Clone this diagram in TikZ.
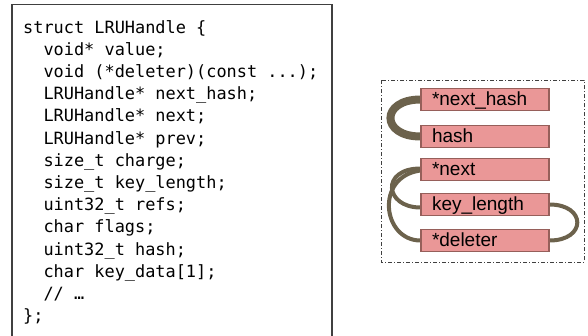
\documentclass[tikz,border=0pt]{standalone}
\usepackage{fontspec}
\setmainfont{Liberation Sans}
\newfontfamily\codefont{DejaVu Sans Mono}
\usetikzlibrary{backgrounds}
\definecolor{linkbrown}{RGB}{108,98,76}
\definecolor{fieldfill}{RGB}{234,151,151}
\definecolor{fieldedge}{RGB}{150,95,90}
\definecolor{framegray}{RGB}{64,64,64}
\tikzset{
  field/.style={draw=fieldedge, line width=1.1pt, fill=fieldfill,
    minimum width=128pt, text width=106pt, align=left,
    inner xsep=11pt, inner ysep=0pt, text height=17pt, text depth=4.5pt,
    font=\fontsize{19}{19}\selectfont},
  link/.style={draw=linkbrown, line width=4pt},
  biglink/.style={draw=linkbrown, line width=8pt},
  codebox/.style={draw=framegray, line width=1.3pt},
  panel/.style={draw=framegray, line width=1pt,
    dash pattern=on 4pt off 2pt on 1pt off 2pt},
}
\begin{document}
\begin{tikzpicture}[x=1pt,y=-1pt]
\useasboundingbox (0,0) rectangle (588,335);

% struct listing (the node's base is the baseline of its last line)
\draw[codebox] (12,340) -- (12,4.5) -- (332,4.5) -- (332,340);
\node[anchor=base west, align=left, inner sep=0pt,
      font=\codefont\fontsize{16.9}{22.2}\selectfont] (code) at (23,321.6) {%
struct LRUHandle \{\\
\phantom{xx}void* value;\\
\phantom{xx}void (*deleter)(const ...);\\
\phantom{xx}LRUHandle* next\_hash;\\
\phantom{xx}LRUHandle* next;\\
\phantom{xx}LRUHandle* prev;\\
\phantom{xx}size\_t charge;\\
\phantom{xx}size\_t key\_length;\\
\phantom{xx}uint32\_t refs;\\
\phantom{xx}char flags;\\
\phantom{xx}uint32\_t hash;\\
\phantom{xx}char key\_data[1];\\
\phantom{xx}// …\\
\};};

% memory layout panel
\draw[panel] (381,80) rectangle (584,262);
\node[field] (nh) at (485,99.5)  {*next\_hash};
\node[field] (h)  at (485,136.5) {hash};
\node[field] (n)  at (485,169.5) {*next};
\node[field] (kl) at (485,204.5) {key\_length};
\node[field] (d)  at (485,240.5) {*deleter};

\begin{pgfonlayer}{background}
  \draw[biglink] (nh.west) .. controls +(-40,0) and +(-40,0) .. (h.west);
  \draw[link] ([yshift=1pt]n.west) .. controls +(-40,0) and +(-36,0) .. ([yshift=-3pt]kl.west);
  \draw[link] ([yshift=-1pt]n.west) .. controls +(-46,6) and +(-38,0) .. (d.west);
  \draw[link] (kl.east) .. controls +(37,0) and +(37,0) .. (d.east);
\end{pgfonlayer}
\end{tikzpicture}
\end{document}
